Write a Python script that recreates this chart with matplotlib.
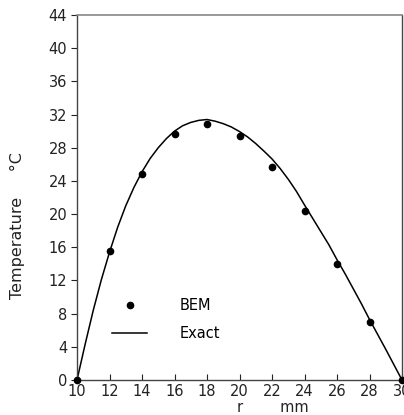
import numpy as np
import matplotlib
matplotlib.use("Agg")
import matplotlib.pyplot as plt

# BEM solution (dots)
r_bem = [10, 12, 14, 16, 18, 20, 22, 24, 26, 28, 30]
T_bem = [0, 15.5, 24.8, 29.6, 30.9, 29.4, 25.7, 20.4, 14.0, 7.0, 0]

# exact solution
r_exact = [10, 10.5, 11, 11.5, 12, 12.5, 13, 13.5, 14, 14.5, 15, 15.5, 16, 16.5,
           17, 17.5, 18, 18.5, 19, 19.5, 20, 20.5, 21, 21.5, 22, 22.5, 23, 23.5,
           24, 24.5, 25, 25.5, 26, 26.5, 27, 27.5, 28, 28.5, 29, 29.5, 30]
T_exact = [0, 4.3, 8.4, 12.1, 15.4, 18.4, 21.0, 23.2, 25.1, 26.7, 28.0, 29.1,
           30.0, 30.65, 31.05, 31.3, 31.4, 31.2, 30.9, 30.5, 29.95, 29.3, 28.5,
           27.6, 26.65, 25.5, 24.2, 22.75, 21.1, 19.5, 17.9, 16.3, 14.5, 12.8,
           11.0, 9.2, 7.3, 5.5, 3.7, 1.85, 0]

xticks = np.arange(10, 31, 2)
yticks = np.arange(0, 45, 4)

fig = plt.figure(figsize=(4.04, 4.15), dpi=100)
ax = fig.add_axes([77 / 404, 35 / 415, 325 / 404, 365 / 415])

ax.plot(r_exact, T_exact, color='black', lw=1.1, label='Exact', zorder=2)
ax.plot(r_bem, T_bem, 'o', color='black', ms=4.5, label='BEM', zorder=3,
        clip_on=False)

ax.set_xlim(10, 30)
ax.set_ylim(0, 44)
ax.set_xticks(xticks)
ax.set_yticks(yticks)
ax.tick_params(axis='x', direction='in', length=4, width=0.8, pad=3,
               labelsize=10.5, colors='#222')
ax.tick_params(axis='y', direction='out', length=4, width=0.8, pad=3,
               labelsize=10.5, colors='#222')

for side in ['left', 'bottom', 'right']:
    ax.spines[side].set_color('#444')
    ax.spines[side].set_linewidth(1.0)
ax.spines['top'].set_color('#888')
ax.spines['top'].set_linewidth(1.2)

h, l = ax.get_legend_handles_labels()
ax.legend(h[::-1], l[::-1], loc='upper left', bbox_to_anchor=(0.108, 0.225),
          frameon=False, fontsize=10.5, handlelength=2.4, handletextpad=2.2,
          labelspacing=0.9, borderpad=0, borderaxespad=0)

fig.text(17 / 404, 1 - 226 / 415, 'Temperature     \u00b0C', rotation=90,
         ha='center', va='center', fontsize=11.5, color='#222')
fig.text(237 / 404, 1 - 407 / 415, 'r        mm', ha='left', va='center',
         fontsize=10.5, color='#222')

fig.savefig('out.png', dpi=100)
